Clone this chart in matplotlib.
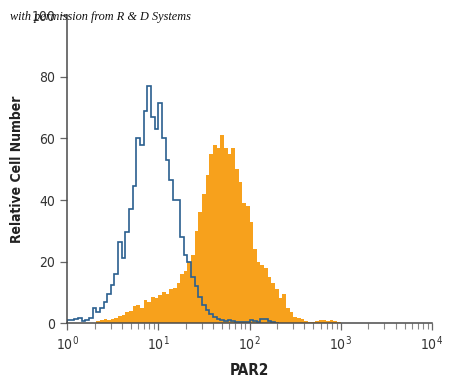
import numpy as np
import matplotlib
matplotlib.use("Agg")
import matplotlib.pyplot as plt

# histogram channels: log10 bins of width 0.04 over 10^0 .. 10^4
bin_width = 0.04

# isotype control (blue outline), starts at bin 0
control_counts = [1.0, 1.0, 1.2, 1.8, 0.7, 1.0, 1.6, 4.8, 3.5, 5.0,
                  6.8, 9.5, 12.5, 16.0, 26.5, 21.0, 29.5, 37.0, 44.5, 60.0,
                  58.0, 69.0, 77.0, 67.0, 63.0, 71.5, 60.0, 53.0, 46.5, 40.0,
                  40.0, 28.0, 22.0, 20.0, 15.0, 12.0, 8.5, 5.8, 4.2, 3.0,
                  2.0, 1.2, 1.0, 0.8, 1.0, 0.6, 0.5, 0.5, 0.3, 0.4,
                  1.0, 0.7, 0.4, 1.2, 1.3, 0.6, 0.2, 0.1]
control_start = 0

# PAR2 antibody (orange filled), starts at bin 8
par2_counts = [0.8, 1.0, 1.2, 1.0, 1.3, 1.8, 2.3, 2.6, 3.5, 4.0,
               5.5, 6.0, 5.0, 7.5, 7.0, 8.5, 8.0, 9.0, 10.0, 9.5,
               11.0, 11.5, 13.0, 16.0, 17.0, 20.0, 22.0, 30.0, 36.0, 42.0,
               48.0, 55.0, 58.0, 57.0, 61.0, 57.0, 55.0, 57.0, 50.0, 46.0,
               39.0, 38.0, 33.0, 24.0, 20.0, 19.0, 18.0, 15.0, 13.0, 11.0,
               8.0, 9.5, 5.0, 3.5, 2.0, 1.5, 1.2, 0.6, 0.3, 0.2,
               0.6, 1.0, 1.0, 0.8, 1.0, 0.7, 0.3]
par2_start = 8

y_ticks = [0, 20, 40, 60, 80, 100]
x_ticks = [1, 10, 100, 1000, 10000]
x_ticklabels = ["$10^0$", "$10^1$", "$10^2$", "$10^3$", "$10^4$"]


def edges_for(start, n):
    return 10 ** (bin_width * np.arange(start, start + n + 1))


plt.rcParams['font.family'] = ['DejaVu Sans']
plt.rcParams['font.stretch'] = 'condensed'
plt.rcParams['mathtext.fontset'] = 'custom'
plt.rcParams['mathtext.rm'] = 'DejaVu Sans:stretch=condensed'
plt.rcParams['mathtext.it'] = 'DejaVu Sans:stretch=condensed'

fig = plt.figure(figsize=(4.5, 3.86), dpi=100)
ax = fig.add_axes([0.149, 0.163, 0.811, 0.797])

ax.stairs(par2_counts, edges_for(par2_start, len(par2_counts)),
          fill=True, color='#f7a11c', linewidth=0)
ax.stairs(control_counts, edges_for(control_start, len(control_counts)),
          color='#2a5f8f', linewidth=1.2)

ax.set_xscale('log')
ax.set_xlim(1, 10000)
ax.set_ylim(0, 100)
ax.set_xticks(x_ticks)
ax.set_xticklabels(x_ticklabels)
ax.set_yticks(y_ticks)
ax.xaxis.set_minor_locator(matplotlib.ticker.LogLocator(base=10, subs=np.arange(2, 10)))
ax.xaxis.set_minor_formatter(matplotlib.ticker.NullFormatter())

for s in ['top', 'right']:
    ax.spines[s].set_visible(False)
for s in ['left', 'bottom']:
    ax.spines[s].set_color('#4a4a4a')
    ax.spines[s].set_linewidth(1.1)

ax.tick_params(axis='both', which='major', direction='out', length=5, width=0.9,
               color='#666666', labelsize=10, labelcolor='#333333')
ax.tick_params(axis='x', which='minor', direction='out', length=4, width=0.8,
               color='#888888')
ax.tick_params(axis='x', pad=3)

ax.set_xlabel("PAR2", fontsize=11, fontweight='bold', color='#222222', labelpad=7)
ax.set_ylabel("Relative Cell Number", fontsize=10, fontweight='bold',
              color='#222222', labelpad=5)

fig.text(0.022, 0.955, "with permission from R & D Systems", fontsize=8.8,
         family='Liberation Serif', style='italic', stretch='normal',
         color='#111111', va='center')

fig.savefig("out.png", dpi=100)
